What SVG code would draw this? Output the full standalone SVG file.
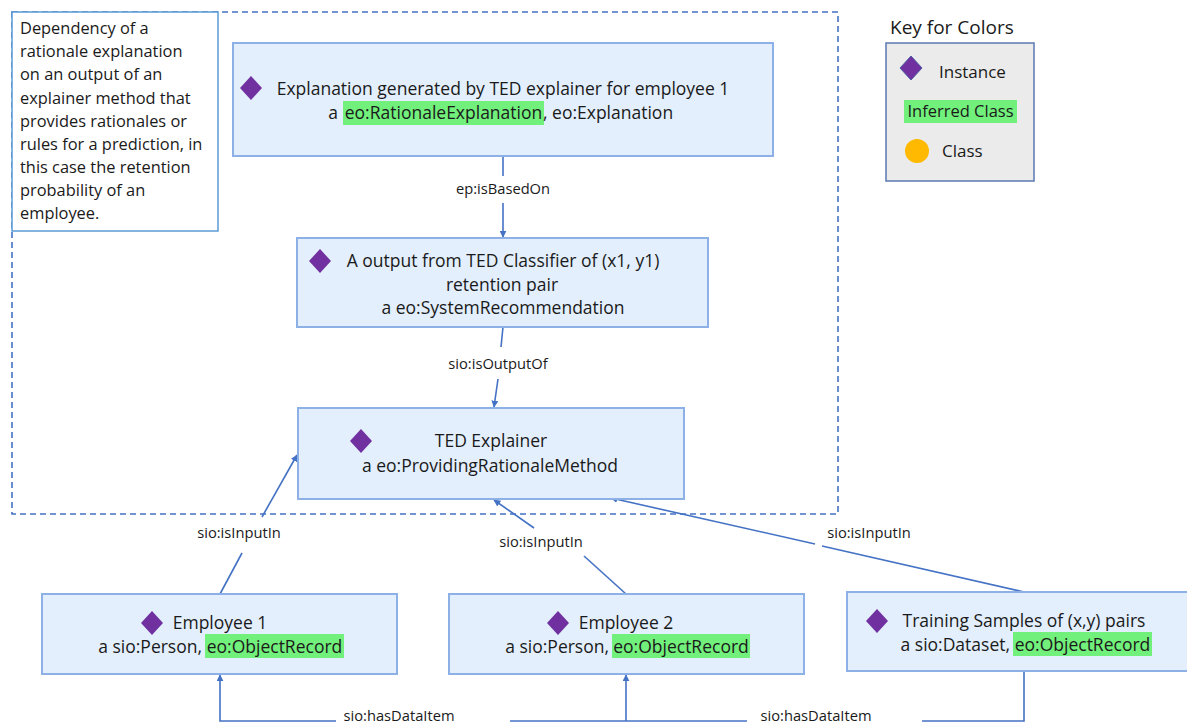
<svg xmlns="http://www.w3.org/2000/svg" width="1187" height="726" viewBox="0 0 1187 726">
  <style>
    text { font-family: "Open Sans", "Liberation Sans", Arial, sans-serif; fill: #1a1a1a; }
    .node { fill: #e3effc; stroke: #8db1e6; stroke-width: 2; }
    .t { font-size: 17.5px; text-anchor: middle; }
    .ts { font-size: 17.5px; }
    .te { font-size: 17.5px; text-anchor: end; }
    .lbl { font-size: 14.7px; text-anchor: middle; }
    .note { font-size: 16.4px; }
    .hl { fill: #72f07c; }
    .dia { fill: #7030a0; }
    .edge { fill: none; stroke: #4472c4; stroke-width: 1.6; }
  </style>
  <defs>
    <marker id="arrow" viewBox="0 0 10 10" refX="9" refY="5" markerWidth="7" markerHeight="7" orient="auto" markerUnits="userSpaceOnUse">
      <path d="M0,0 L10,5 L0,10 z" fill="#4472c4"/>
    </marker>
    <path id="diamond" d="M0,-12 L11,0 L0,12 L-11,0 z"/>
  </defs>

  <rect width="1187" height="726" fill="#ffffff"/>

  <!-- dashed boundary around the explanation dependency -->
  <path d="M12,12 H838 V514 H12 Z" fill="none" stroke="#4472c4" stroke-width="1.6" stroke-dasharray="6,4"/>

  <!-- note box -->
  <g id="note">
    <rect x="12" y="12" width="206" height="219" fill="#ffffff" stroke="#5b9bd5" stroke-width="1.5"/>
    <text class="note" x="20" y="34">Dependency of a</text>
    <text class="note" x="20" y="57">rationale explanation</text>
    <text class="note" x="20" y="80">on an output of an</text>
    <text class="note" x="20" y="104">explainer method that</text>
    <text class="note" x="20" y="127">provides rationales or</text>
    <text class="note" x="20" y="150">rules for a prediction, in</text>
    <text class="note" x="20" y="173">this case the retention</text>
    <text class="note" x="20" y="196">probability of an</text>
    <text class="note" x="20" y="219">employee.</text>
  </g>

  <!-- connectors -->
  <g id="connectors">
    <path class="edge" d="M503,156 V176"/>
    <path class="edge" d="M503,203 V237" marker-end="url(#arrow)"/>
    <text class="lbl" x="503" y="194">ep:isBasedOn</text>

    <path class="edge" d="M503,327 L501,347"/>
    <path class="edge" d="M498,379 L494,407" marker-end="url(#arrow)"/>
    <text class="lbl" x="498" y="369">sio:isOutputOf</text>

    <path class="edge" d="M220,594 L242,553"/>
    <path class="edge" d="M262,517 L297,455" marker-end="url(#arrow)"/>
    <text class="lbl" x="239" y="538">sio:isInputIn</text>

    <path class="edge" d="M626,594 L584,556"/>
    <path class="edge" d="M534,528 L494,500" marker-end="url(#arrow)"/>
    <text class="lbl" x="541" y="547">sio:isInputIn</text>

    <path class="edge" d="M1024,592 L822,546"/>
    <path class="edge" d="M815,544 L611,498" marker-end="url(#arrow)"/>
    <text class="lbl" x="869" y="538">sio:isInputIn</text>

    <path class="edge" d="M336,721 H220 V675" marker-end="url(#arrow)"/>
    <text class="lbl" x="399" y="721">sio:hasDataItem</text>
    <path class="edge" d="M510,721 H747"/>
    <path class="edge" d="M626,721 V675" marker-end="url(#arrow)"/>
    <text class="lbl" x="816" y="721">sio:hasDataItem</text>
    <path class="edge" d="M922,721 H1024 V671"/>
  </g>

  <!-- explanation instance -->
  <g id="explanation">
    <rect class="node" x="233" y="43" width="540" height="113"/>
    <use href="#diamond" x="251" y="88" class="dia"/>
    <text class="t" x="503" y="95">Explanation generated by TED explainer for employee 1</text>
    <rect class="hl" x="343" y="101" width="201" height="24"/>
    <text class="te" x="338" y="119">a</text>
    <text class="t" x="443.5" y="119">eo:RationaleExplanation</text>
    <text class="ts" x="543" y="119">, eo:Explanation</text>
  </g>

  <!-- classifier output -->
  <g id="output">
    <rect class="node" x="297" y="238" width="411" height="89"/>
    <use href="#diamond" x="320" y="261" class="dia"/>
    <text class="t" x="503" y="267">A output from TED Classifier of (x1, y1)</text>
    <text class="t" x="502" y="291">retention pair</text>
    <text class="t" x="503" y="314">a eo:SystemRecommendation</text>
  </g>

  <!-- explainer method -->
  <g id="explainer">
    <rect class="node" x="298" y="408" width="386" height="91"/>
    <use href="#diamond" x="361" y="441" class="dia"/>
    <text class="t" x="491" y="447">TED Explainer</text>
    <text class="t" x="490" y="472">a eo:ProvidingRationaleMethod</text>
  </g>

  <!-- employee 1 -->
  <g id="employee1">
    <rect class="node" x="42" y="594" width="355" height="80"/>
    <use href="#diamond" x="152" y="623" class="dia"/>
    <text class="t" x="220" y="629">Employee 1</text>
    <rect class="hl" x="205" y="634" width="139" height="24"/>
    <text class="te" x="202" y="653">a sio:Person,</text>
    <text class="t" x="274.5" y="653">eo:ObjectRecord</text>
  </g>

  <!-- employee 2 -->
  <g id="employee2">
    <rect class="node" x="449" y="594" width="355" height="80"/>
    <use href="#diamond" x="558" y="623" class="dia"/>
    <text class="t" x="626" y="629">Employee 2</text>
    <rect class="hl" x="612" y="634" width="138" height="24"/>
    <text class="te" x="609" y="653">a sio:Person,</text>
    <text class="t" x="681" y="653">eo:ObjectRecord</text>
  </g>

  <!-- training samples -->
  <g id="training">
    <rect class="node" x="847" y="592" width="345" height="79"/>
    <use href="#diamond" x="877" y="621" class="dia"/>
    <text class="t" x="1024" y="627">Training Samples of (x,y) pairs</text>
    <rect class="hl" x="1013" y="632" width="139" height="24"/>
    <text class="te" x="1010" y="651">a sio:Dataset,</text>
    <text class="t" x="1082.5" y="651">eo:ObjectRecord</text>
  </g>

  <!-- colour key -->
  <g id="key">
    <text x="890" y="34" style="font-size:19px">Key for Colors</text>
    <rect x="886" y="43" width="148" height="138" fill="#ebebeb" stroke="#5a78b0" stroke-width="1.5"/>
    <use href="#diamond" x="911" y="68" class="dia" stroke="#4a5aa0" stroke-width="1"/>
    <text x="939" y="78" style="font-size:17px">Instance</text>
    <rect class="hl" x="904" y="100" width="113" height="23"/>
    <text x="960.5" y="117" style="font-size:16.5px; text-anchor:middle">Inferred Class</text>
    <circle cx="917" cy="151" r="12" fill="#ffb900"/>
    <text x="942" y="157" style="font-size:17px">Class</text>
  </g>
</svg>
